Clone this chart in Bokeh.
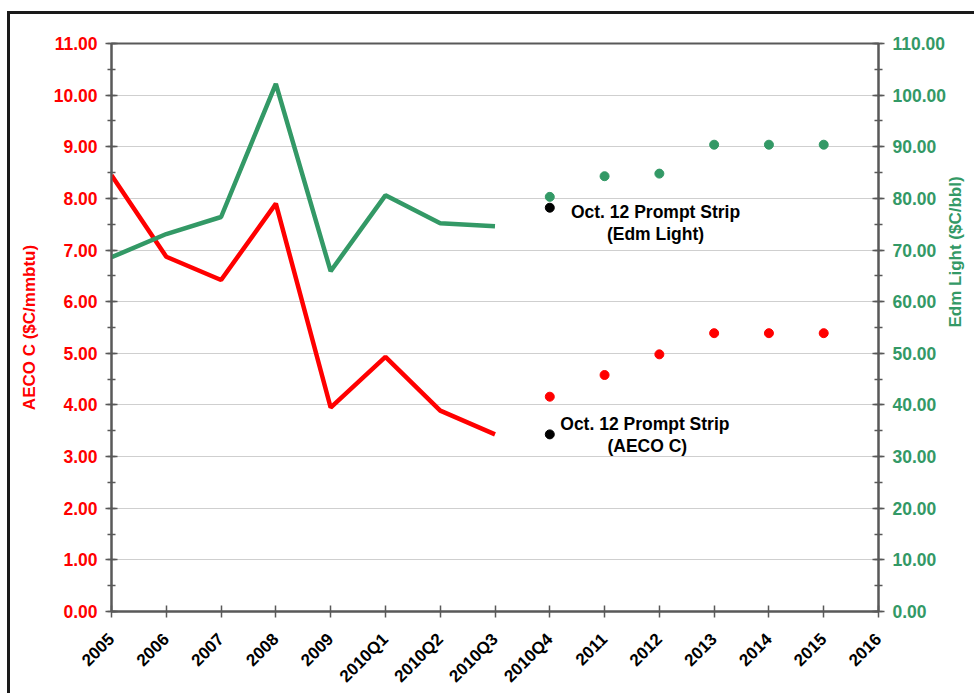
import math
from bokeh.plotting import figure
from bokeh.models import (Range1d, LinearAxis, SingleIntervalTicker, FixedTicker,
                          NumeralTickFormatter, Label)
from bokeh.embed import file_html
from bokeh.resources import INLINE

categories = ["2005", "2006", "2007", "2008", "2009", "2010Q1", "2010Q2", "2010Q3",
              "2010Q4", "2011", "2012", "2013", "2014", "2015", "2016"]

# historical (solid lines)
hist_cats = ["2005", "2006", "2007", "2008", "2009", "2010Q1", "2010Q2", "2010Q3"]
aeco_hist = [8.45, 6.87, 6.42, 7.90, 3.95, 4.93, 3.89, 3.43]
edm_hist = [68.6, 73.1, 76.4, 102.2, 65.9, 80.6, 75.2, 74.6]

# forward strip (dots)
fwd_cats = ["2010Q4", "2011", "2012", "2013", "2014", "2015"]
aeco_fwd = [4.16, 4.58, 4.98, 5.39, 5.39, 5.39]
edm_fwd = [80.3, 84.3, 84.8, 90.4, 90.4, 90.4]

# Oct. 12 prompt strip
prompt_cat = "2010Q4"
prompt_aeco = 3.43
prompt_edm = 78.2

left_title = "AECO C ($C/mmbtu)"
right_title = "Edm Light ($C/bbl)"

RED = "#FF0000"
GREEN = "#339966"
FONT = "Liberation Sans"

idx = {c: i for i, c in enumerate(categories)}
xh = [idx[c] for c in hist_cats]
xf = [idx[c] for c in fwd_cats]
xp = idx[prompt_cat]

p = figure(width=967, height=682, output_backend="svg", toolbar_location=None,
           x_range=Range1d(0, len(categories) - 1), y_range=Range1d(0, 11),
           min_border_left=101, min_border_right=96, min_border_top=29,
           min_border_bottom=85)
p.styles = {"border-left": "3px solid #1a1a1a", "border-top": "3px solid #1a1a1a",
            "margin-top": "11px", "margin-left": "7px"}
p.extra_y_ranges = {"right": Range1d(0, 110)}

p.background_fill_color = "white"
p.border_fill_color = "white"
p.outline_line_color = "#595959"
p.outline_line_width = 2

# grid
p.xgrid.visible = False
p.ygrid.grid_line_color = "#cfcfcf"
p.ygrid.grid_line_width = 1

# x axis
xa = p.xaxis[0]
xa.ticker = FixedTicker(ticks=list(range(len(categories))), minor_ticks=[])
xa.major_label_overrides = {i: c for i, c in enumerate(categories)}
xa.major_label_orientation = math.pi / 4
xa.major_label_text_font = FONT
xa.major_label_text_font_style = "bold"
xa.major_label_text_font_size = "17px"
xa.major_label_text_color = "black"
xa.axis_line_color = "#595959"
xa.axis_line_width = 2
xa.major_tick_line_color = "#595959"
xa.major_tick_line_width = 1.5
xa.major_tick_in = 6
xa.major_tick_out = 6
xa.major_label_standoff = 19

# left axis
ya = p.yaxis[0]
ya.ticker = SingleIntervalTicker(interval=1, num_minor_ticks=2)
ya.formatter = NumeralTickFormatter(format="0.00")
ya.axis_label = left_title

# right axis
yr = LinearAxis(y_range_name="right", axis_label=right_title,
                ticker=SingleIntervalTicker(interval=10, num_minor_ticks=2),
                formatter=NumeralTickFormatter(format="0.00"))
yr.axis_label_orientation = math.pi / 2
yr.axis_label_text_baseline = "top"
p.add_layout(yr, "right")

for ax, col, st in ((ya, RED, 12), (yr, GREEN, 6)):
    ax.major_label_text_font = FONT
    ax.major_label_text_font_style = "bold"
    ax.major_label_text_font_size = "17.5px"
    ax.major_label_text_color = col
    ax.axis_label_text_font = FONT
    ax.axis_label_text_font_style = "bold"
    ax.axis_label_text_font_size = "17px"
    ax.axis_label_text_color = col
    ax.axis_label_standoff = st
    ax.major_label_standoff = 8
    ax.axis_line_color = "#595959"
    ax.axis_line_width = 2
    ax.major_tick_line_color = "#595959"
    ax.major_tick_line_width = 1.5
    ax.minor_tick_line_color = "#595959"
    ax.minor_tick_line_width = 1.5
    ax.major_tick_in = 6
    ax.major_tick_out = 6
    ax.minor_tick_in = 4
    ax.minor_tick_out = 4

# series
p.line(xh, aeco_hist, line_color=RED, line_width=4.5)
p.line(xh, edm_hist, line_color=GREEN, line_width=4.5, y_range_name="right")
p.scatter(xf, aeco_fwd, size=9, fill_color=RED, line_color=RED)
p.scatter(xf, edm_fwd, size=9, fill_color=GREEN, line_color=GREEN, y_range_name="right")
p.scatter([xp], [prompt_aeco], size=9, fill_color="black", line_color="black")
p.scatter([xp], [prompt_edm], size=9, fill_color="black", line_color="black",
          y_range_name="right")

lab_kw = dict(text_font=FONT, text_font_style="bold", text_font_size="17.5px",
              text_color="black", text_align="center", text_baseline="middle",
              text_line_height=1.1)
p.add_layout(Label(x=9.93, y=7.53, text="Oct. 12 Prompt Strip\n(Edm Light)", **lab_kw))
p.add_layout(Label(x=9.78, y=3.41, text="Oct. 12  Prompt Strip\n(AECO C)", **lab_kw))

open("out.html", "w").write(file_html(p, INLINE))
